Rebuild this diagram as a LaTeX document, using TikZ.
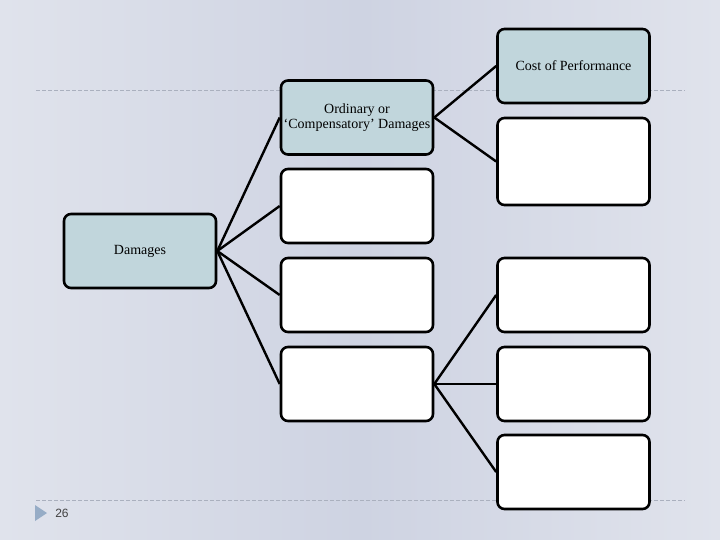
\documentclass[tikz,border=0pt]{standalone}
\usepackage{fontspec}
\setmainfont{Liberation Serif}
\newfontfamily\numfont{Liberation Sans}
\usetikzlibrary{positioning}
\definecolor{bgside}{RGB}{224,227,236}
\definecolor{bgmid}{RGB}{206,211,226}
\definecolor{boxfill}{RGB}{193,214,220}
\definecolor{rulegray}{RGB}{170,176,190}
\definecolor{markblue}{RGB}{150,172,198}
\tikzset{
  box/.style={draw=black, line width=2.6pt, rounded corners=7pt, minimum width=152pt,
    minimum height=74pt, align=center, inner sep=2pt, font=\fontsize{14}{14.5}\selectfont},
  namedbox/.style={box, fill=boxfill},
  emptybox/.style={box, fill=white},
  link/.style={line width=2.4pt}
}
\begin{document}
\begin{tikzpicture}[x=1pt,y=-1pt]
\useasboundingbox (0,0) rectangle (720,540);
\shade[left color=bgside, right color=bgside, middle color=bgmid] (0,0) rectangle (720,540);
% slide rules
\draw[rulegray, dashed, dash pattern=on 4pt off 2pt, line width=0.8pt] (36,90) -- (685,90);
\draw[rulegray, dashed, dash pattern=on 4pt off 2pt, line width=0.8pt] (36,500) -- (685,500);
\fill[markblue] (35,505) -- (47,513) -- (35,521) -- cycle;
\node[text=black!75, font=\numfont\fontsize{12}{13}\selectfont] (pagenum) at (62,513) {26};
% level 1
\node[namedbox] (dmg) at (140,251) {Damages};
% level 2
\node[namedbox] (ord) at (357,117.5) {Ordinary or\\`Compensatory' Damages};
\node[emptybox] (mid1) at (357,206) {};
\node[emptybox] (mid2) at (357,295) {};
\node[emptybox] (mid3) at (357,384) {};
% level 3
\node[namedbox] (cost) at (573.5,66) {Cost of Performance};
\node[emptybox, minimum height=87pt] (right1) at (573.5,161.5) {};
\node[emptybox] (right2) at (573.5,295) {};
\node[emptybox] (right3) at (573.5,384) {};
\node[emptybox] (right4) at (573.5,472) {};
% connectors
\foreach \t in {ord,mid1,mid2,mid3}
  \draw[link] (dmg.east) -- (\t.west);
\draw[link] (ord.east) -- (cost.west);
\draw[link] (ord.east) -- (right1.west);
\foreach \t in {right2,right3,right4}
  \draw[link] (mid3.east) -- (\t.west);
\end{tikzpicture}
\end{document}
